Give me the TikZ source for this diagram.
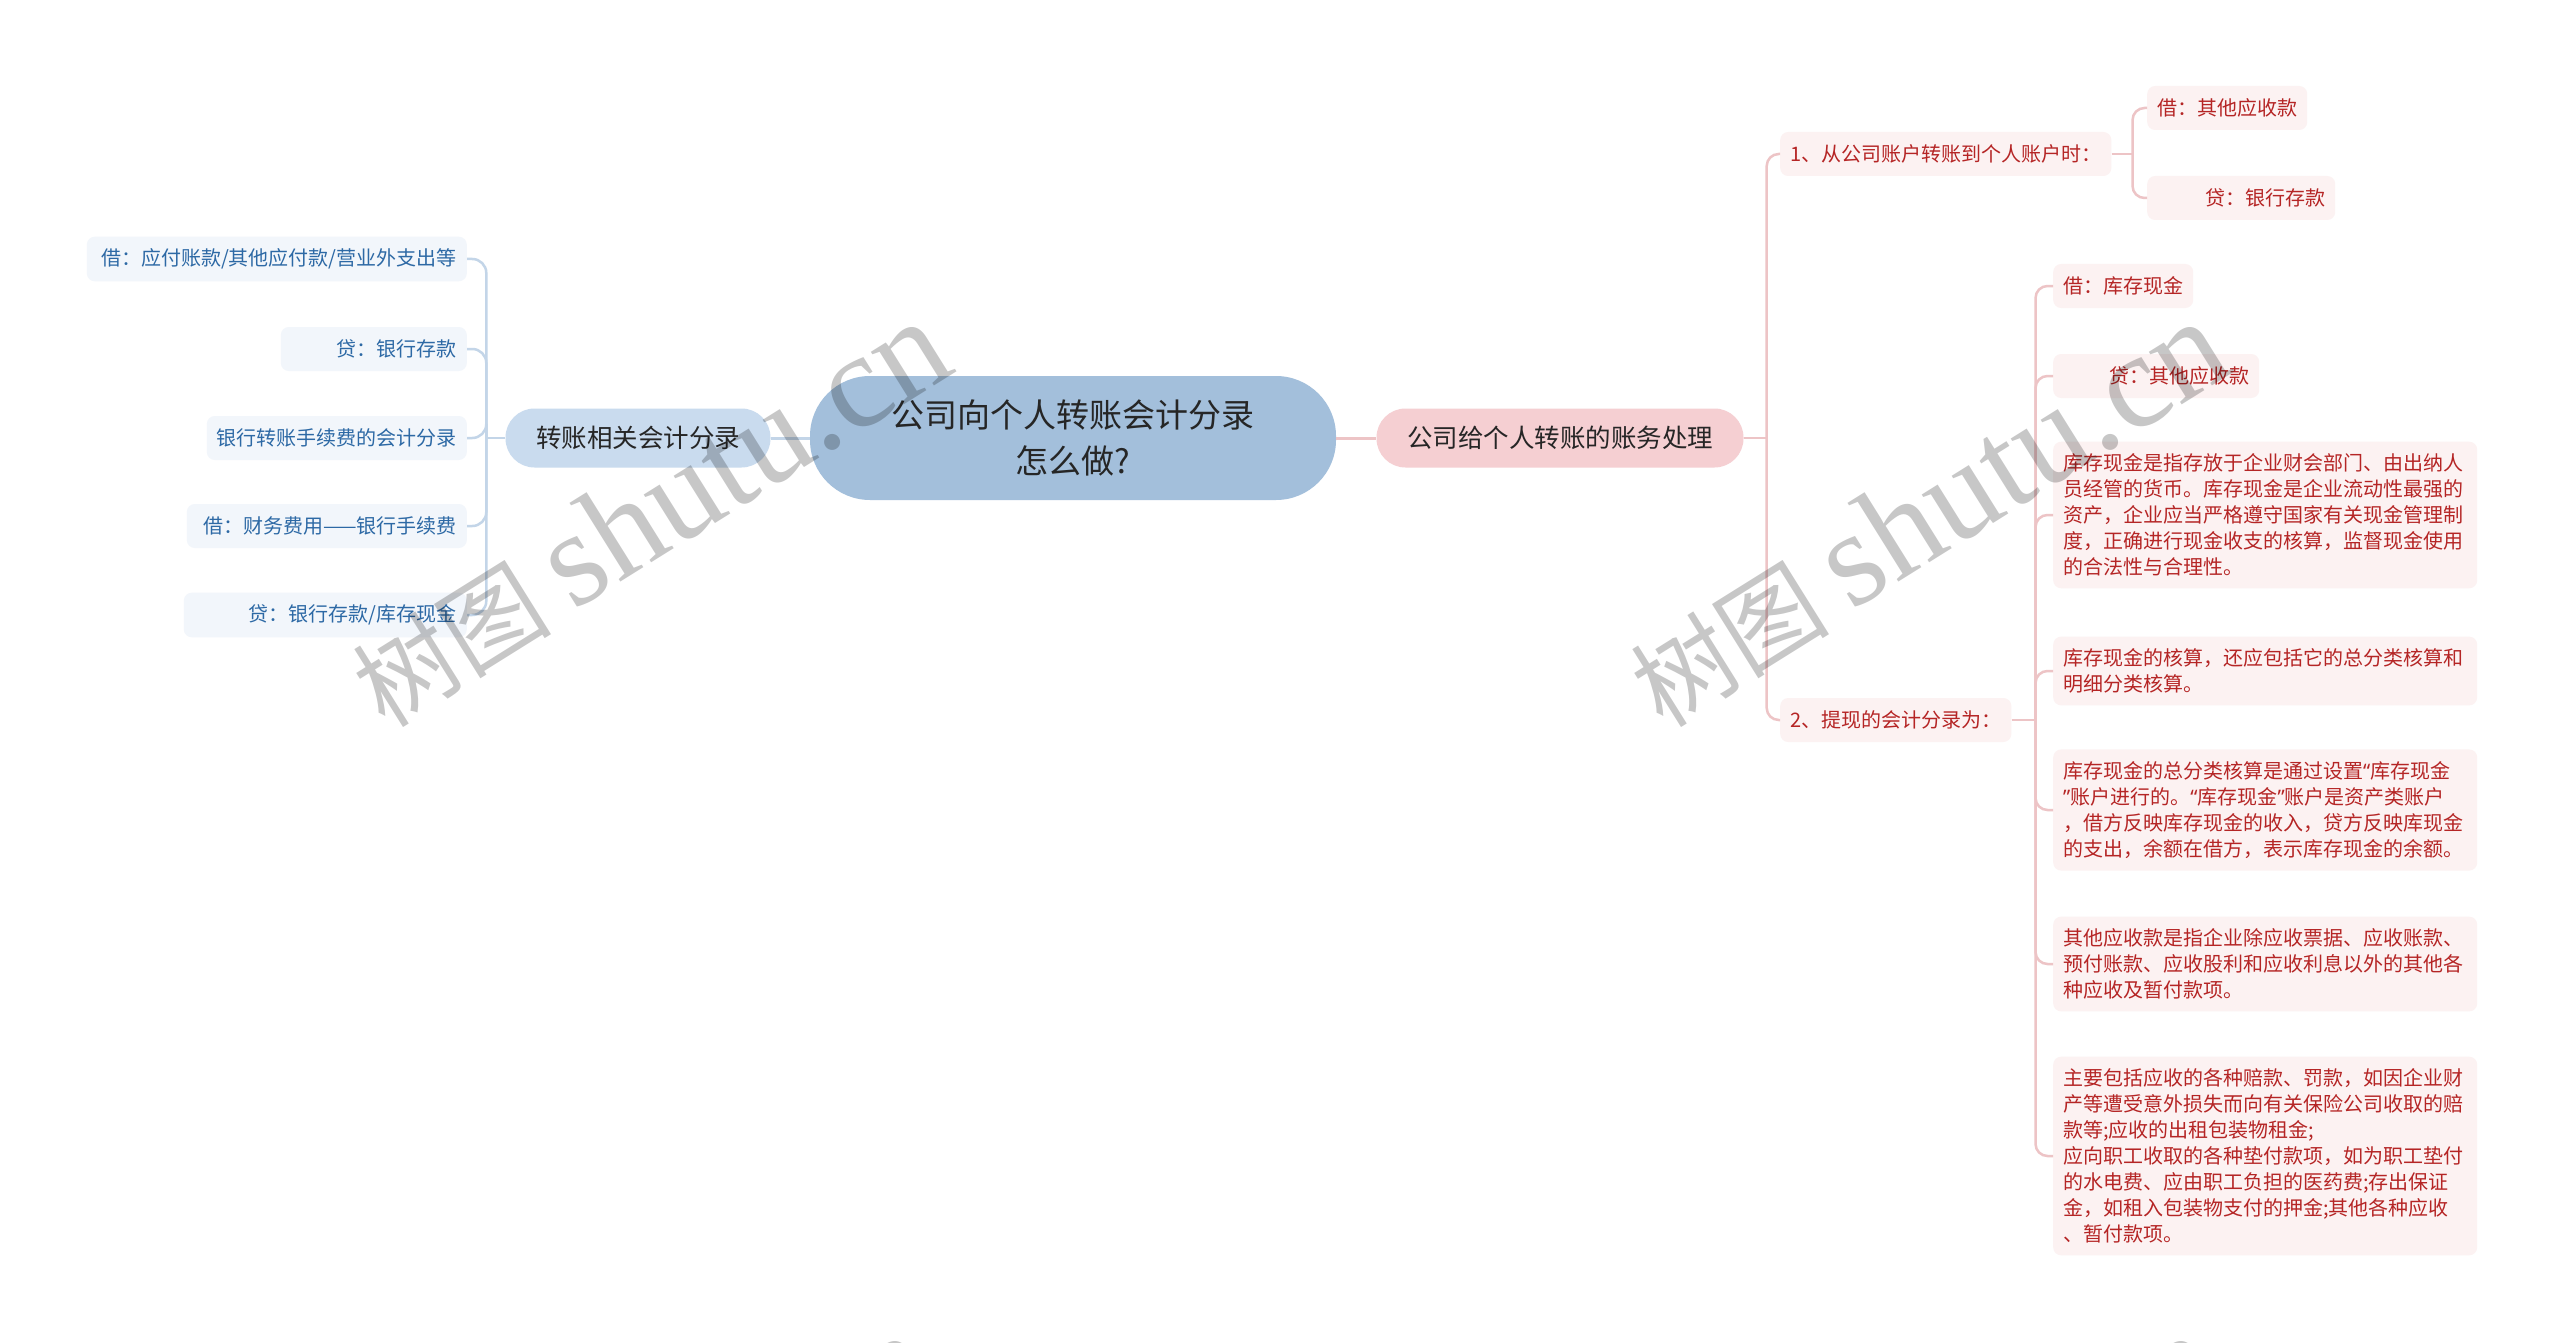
\documentclass[tikz,border=0pt]{standalone}
\usepackage{fontspec}
\setmainfont{Noto Sans CJK SC}
\newfontfamily\wmfont{Liberation Serif}
\newfontfamily\quotefont{Noto Sans}
\newcommand{\openq}{{\quotefont “}}
\newcommand{\closeq}{{\quotefont ”}}
\usepackage{xcolor}

\definecolor{rootblue}{HTML}{A3BFDB}
\definecolor{topicblue}{HTML}{C9DBEE}
\definecolor{leafblue}{HTML}{F2F6FB}
\definecolor{textblue}{HTML}{2D69A5}
\definecolor{lineblue}{HTML}{C3D5E8}
\definecolor{topicpink}{HTML}{F5CFD2}
\definecolor{leafpink}{HTML}{FCF2F2}
\definecolor{textred}{HTML}{B52525}
\definecolor{linepink}{HTML}{EDC4C6}

\begin{document}
\begin{tikzpicture}[x=1pt,y=-1pt,
    root/.style={fill=rootblue, rounded corners=60pt, minimum width=526pt, minimum height=124pt,
                 align=center, text=black!85, font=\fontsize{33pt}{46pt}\selectfont},
    topic/.style={rounded corners=29pt, minimum height=59pt, inner xsep=20pt, text=black!85,
                  font=\fontsize{25.5pt}{30pt}\selectfont},
    leaf/.style={rounded corners=8pt, minimum height=44pt, inner xsep=10pt, inner ysep=12pt,
                 font=\fontsize{20pt}{26pt}\selectfont},
    bluebox/.style={leaf, fill=leafblue, text=textblue, align=right, anchor=east},
    pinkbox/.style={leaf, fill=leafpink, text=textred, anchor=west},
    bluelink/.style={draw=lineblue, line width=2.5pt},
    pinklink/.style={draw=linepink, line width=2.5pt},
    wmark/.style={rotate=32, text=black, opacity=0.22, inner sep=0pt}]
    \useasboundingbox[fill=white] (0,0) rectangle (2560,1343);

    % centre and the two topics
    \node[root] (root) at (1073,438) {公司向个人转账会计分录\\怎么做?};
    \node[topic, fill=topicblue, minimum width=265pt] (left) at (638,438) {转账相关会计分录};
    \node[topic, fill=topicpink, minimum width=367pt] (right) at (1560,438) {公司给个人转账的账务处理};
    \draw[bluelink, line width=3pt] (root.west) -- (left.east);
    \draw[pinklink, line width=3pt] (root.east) -- (right.west);

    % left side
    \node[bluebox, text width=360pt] (l1) at (467,259) {借：应付账款/其他应付款/营业外支出等};
    \node[bluebox, text width=166pt] (l2) at (467,349) {贷：银行存款};
    \node[bluebox, text width=240pt] (l3) at (467,438) {银行转账手续费的会计分录};
    \node[bluebox, text width=260pt] (l4) at (467,526) {借：财务费用——银行手续费};
    \node[bluebox, text width=263pt] (l5) at (467,615) {贷：银行存款/库存现金};
    \draw[bluelink] (left.west) -- ++(-19,0) coordinate (ljoin);
    \foreach \n in {l1,l2,l3,l4,l5}
        \draw[bluelink, rounded corners=14pt] (ljoin) |- (\n.east);

    % right side, first level
    \node[pinkbox] (a) at (1780,154) {1、从公司账户转账到个人账户时：};
    \node[pinkbox] (b) at (1780,720) {2、提现的会计分录为：};
    \draw[pinklink] (right.east) -- ++(23,0) coordinate (rjoin);
    \foreach \n in {a,b}
        \draw[pinklink, rounded corners=12pt] (rjoin) |- (\n.west);

    % under 1
    \node[pinkbox] (a1) at (2147,108) {借：其他应收款};
    \node[pinkbox, text width=168pt, align=right] (a2) at (2147,198) {贷：银行存款};
    \draw[pinklink] (a.east) -- ++(21,0) coordinate (ajoin);
    \foreach \n in {a1,a2}
        \draw[pinklink, rounded corners=12pt] (ajoin) |- (\n.west);

    % under 2
    \node[pinkbox] (b1) at (2053,286) {借：库存现金};
    \node[pinkbox, text width=186pt, align=right] (b2) at (2053,376) {贷：其他应收款};
    \node[pinkbox, text width=404pt, align=left] (b3) at (2053,515)
        {库存现金是指存放于企业财会部门、由出纳人\\员经管的货币。库存现金是企业流动性最强的\\资产，企业应当严格遵守国家有关现金管理制\\度，正确进行现金收支的核算，监督现金使用\\的合法性与合理性。};
    \node[pinkbox, text width=404pt, align=left] (b4) at (2053,671)
        {库存现金的核算，还应包括它的总分类核算和\\明细分类核算。};
    \node[pinkbox, text width=404pt, align=left] (b5) at (2053,810)
        {库存现金的总分类核算是通过设置\openq 库存现金\\\closeq 账户进行的。\openq 库存现金\closeq 账户是资产类账户\\，借方反映库存现金的收入，贷方反映库现金\\的支出，余额在借方，表示库存现金的余额。};
    \node[pinkbox, text width=404pt, align=left] (b6) at (2053,964)
        {其他应收款是指企业除应收票据、应收账款、\\预付账款、应收股利和应收利息以外的其他各\\种应收及暂付款项。};
    \node[pinkbox, text width=404pt, align=left] (b7) at (2053,1156)
        {主要包括应收的各种赔款、罚款，如因企业财\\产等遭受意外损失而向有关保险公司收取的赔\\款等;应收的出租包装物租金;\\应向职工收取的各种垫付款项，如为职工垫付\\的水电费、应由职工负担的医药费;存出保证\\金，如租入包装物支付的押金;其他各种应收\\、暂付款项。};
    \draw[pinklink] (b.east) -- ++(24,0) coordinate (bjoin);
    \foreach \n in {b1,b2,b3,b4,b5,b6,b7}
        \draw[pinklink, rounded corners=12pt] (bjoin) |- (\n.west);

    % watermark
    \begin{scope}
        \clip (0,0) rectangle (2560,1343);
        \foreach \wx/\wy [count=\i] in {649/514, 1927/514, 632/1528, 1918/1528}
            \node[wmark] (wm\i) at (\wx,\wy)
                {\fontsize{100pt}{100pt}\selectfont 树图 \fontsize{135pt}{135pt}\wmfont shutu.cn};
    \end{scope}
\end{tikzpicture}
\end{document}
